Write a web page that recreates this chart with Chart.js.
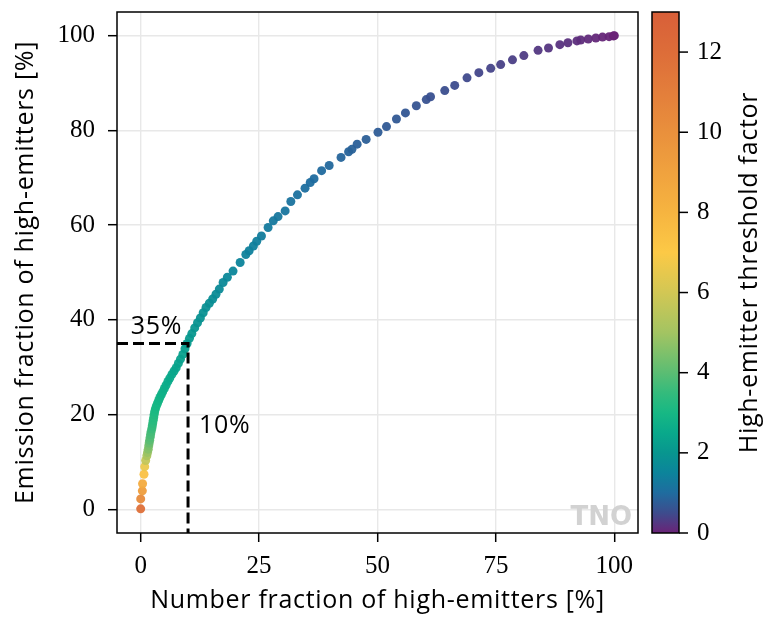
<!DOCTYPE html>
<html>
<head>
<meta charset="utf-8">
<script src="https://cdn.jsdelivr.net/npm/chart.js@4.4.1/dist/chart.umd.min.js"></script>
<style>
  html, body { margin: 0; padding: 0; background: #fff; }
</style>
</head>
<body>
<canvas id="chart" width="765" height="617"></canvas>
<script>
// number fraction [%], emission fraction [%] and threshold factor for each point
const numberFraction = [
  0.0, 0.0, 0.35, 0.4, 0.7, 0.85, 1.05,
  1.3, 1.45, 1.6, 1.7, 1.8, 1.9, 2.0, 2.1, 2.2, 2.35, 2.45, 2.55, 2.65, 2.75, 2.85, 2.95,
  3.1, 3.3, 3.55, 3.8, 4.05, 4.35, 4.65, 5.0, 5.35, 5.75, 6.15, 6.6, 7.05, 7.5, 7.95, 8.4,
  8.9, 9.35, 9.8, 10.3, 10.8, 11.4, 12.0, 12.6, 13.2, 13.8, 14.5, 15.2, 15.9, 16.6,
  17.4, 18.3, 19.5, 21.0, 22.2, 22.9, 23.8, 24.5, 25.5, 26.9, 28.0, 29.0, 30.5, 31.7,
  33.1, 34.7, 35.8, 36.6, 38.2, 39.8, 42.3, 43.9, 44.6, 45.7, 47.6, 50.1, 51.9, 54.0,
  55.9, 58.2, 60.3, 61.2, 64.2, 66.3, 68.9, 71.4, 73.9, 76.0, 78.5, 80.9, 83.9, 86.1,
  88.5, 90.2, 92.1, 92.9, 94.5, 96.1, 97.5, 98.9, 99.8, 100.0
];
const emissionFraction = [
  0.1, 2.2, 3.9, 5.4, 7.4, 9.0, 10.3,
  11.3, 12.0, 12.7, 13.4, 14.0, 14.6, 15.2, 15.8, 16.4, 17.0, 17.6, 18.2, 18.8, 19.4, 20.0, 20.6,
  21.2, 21.8, 22.4, 23.0, 23.6, 24.2, 24.8, 25.5, 26.2, 27.0, 27.7, 28.5, 29.2, 29.9, 30.8, 31.7,
  32.7, 33.9, 35.0, 36.1, 37.1, 38.3, 39.4, 40.4, 41.5, 42.6, 43.5, 44.4, 45.4, 46.5,
  47.9, 49.0, 50.3, 52.1, 53.8, 54.6, 55.6, 56.6, 57.7, 59.5, 60.9, 61.8, 63.0, 65.0,
  66.4, 67.8, 69.0, 69.8, 71.5, 72.6, 74.3, 75.5, 76.0, 77.1, 78.1, 79.6, 80.8, 82.4,
  83.7, 85.2, 86.5, 87.1, 88.4, 89.5, 91.1, 92.2, 93.1, 93.9, 94.9, 95.8, 96.9, 97.4,
  98.1, 98.5, 98.9, 99.1, 99.3, 99.5, 99.7, 99.8, 99.95, 100.0
];
const thresholdFactor = [
  11.8, 10.3, 9.3, 8.5, 7.4, 6.6, 5.7,
  5.2, 4.9, 4.6, 4.4, 4.2, 4.0, 3.9, 3.8, 3.7, 3.6, 3.5, 3.4, 3.3, 3.25, 3.2, 3.1,
  3.05, 3.0, 2.95, 2.9, 2.85, 2.8, 2.75, 2.7, 2.65, 2.6, 2.55, 2.5, 2.45, 2.4, 2.35, 2.3,
  2.25, 2.2, 2.15, 2.1, 2.05, 2.0, 1.95, 1.9, 1.87, 1.84, 1.8, 1.76, 1.72, 1.68,
  1.64, 1.6, 1.56, 1.5, 1.46, 1.43, 1.4, 1.37, 1.33, 1.29, 1.25, 1.22, 1.18, 1.14,
  1.1, 1.06, 1.03, 1.0, 0.97, 0.93, 0.89, 0.86, 0.84, 0.82, 0.79, 0.75, 0.72, 0.69,
  0.66, 0.62, 0.59, 0.57, 0.53, 0.5, 0.47, 0.43, 0.4, 0.37, 0.34, 0.3, 0.26, 0.23,
  0.2, 0.17, 0.14, 0.12, 0.1, 0.07, 0.05, 0.03, 0.01, 0.0
];

const xTicks = [0, 25, 50, 75, 100];
const yTicks = [0, 20, 40, 60, 80, 100];
const cbTicks = [0, 2, 4, 6, 8, 10, 12];
const cbMax = 13;

const xTitle = 'Number fraction of high-emitters [%]';
const yTitle = 'Emission fraction of high-emitters [%]';
const cbTitle = 'High-emitter threshold factor';

// the 10% / 35% marker and where its labels sit
const markNumber = 10;
const markEmission = 35;
const markLabelEmission = { x: -2.1, y: 37.0 };
const markLabelNumber = { x: 12.3, y: 16.1 };

// colormap used for the threshold factor
const cmapStops = [
  [0, '#6a2377'], [0.5, '#3d4c8d'], [1.0, '#1f6c9f'], [1.5, '#0c849b'],
  [2.0, '#08968f'], [2.5, '#09a98b'], [3.0, '#17b884'], [3.5, '#34bb7c'],
  [4.0, '#5bbd73'], [5.0, '#a3c462'], [6.0, '#d2c754'], [7.0, '#fcc946'],
  [8.0, '#f6b440'], [9.0, '#f0a23e'], [10.0, '#e9903c'], [11.0, '#e37e3b'],
  [12.0, '#dd6d39'], [13.0, '#d85f39']
];

function hexToRgb(h) {
  const n = parseInt(h.slice(1), 16);
  return [(n >> 16) & 255, (n >> 8) & 255, n & 255];
}

function cmap(v) {
  if (v <= cmapStops[0][0]) return cmapStops[0][1];
  for (let i = 1; i < cmapStops.length; i++) {
    const [v1, c1] = cmapStops[i];
    if (v <= v1) {
      const [v0, c0] = cmapStops[i - 1];
      const f = (v - v0) / (v1 - v0);
      const a = hexToRgb(c0), b = hexToRgb(c1);
      const m = a.map((c, k) => Math.round(c + (b[k] - c) * f));
      return `rgba(${m[0]},${m[1]},${m[2]},0.95)`;
    }
  }
  return cmapStops[cmapStops.length - 1][1];
}

const serif = '"Liberation Serif", "DejaVu Serif", serif';
const sans = '"Open Sans", "DejaVu Sans", sans-serif';

const points = numberFraction.map((x, i) => ({ x, y: emissionFraction[i] }));
const pointColors = thresholdFactor.map(cmap);

const xMin = -5, xMax = 105, yMin = -5, yMax = 105;

function drawText(ctx, text, x, y, rot, align) {
  ctx.save();
  ctx.translate(x, y);
  ctx.rotate(rot);
  ctx.font = '25px ' + sans;
  ctx.letterSpacing = '0.7px';
  ctx.fillStyle = '#000';
  ctx.textAlign = align;
  ctx.textBaseline = 'alphabetic';
  ctx.fillText(text, 0, 0);
  ctx.restore();
}

const decor = {
  id: 'decor',
  beforeDatasetsDraw(chart) {
    const { ctx, chartArea: a } = chart;
    ctx.save();
    ctx.font = 'bold 26px "DejaVu Sans"';
    ctx.fillStyle = '#d2d2d2';
    ctx.textAlign = 'right';
    ctx.textBaseline = 'alphabetic';
    ctx.fillText('TNO', a.right - 6, a.bottom - 8);
    ctx.restore();
  },
  afterDraw(chart) {
    const { ctx, chartArea: a, scales } = chart;
    const sx = scales.x, sy = scales.y, cb = scales.cb;
    const midX = (a.left + a.right) / 2, midY = (a.top + a.bottom) / 2;

    drawText(ctx, markEmission + '%', sx.getPixelForValue(markLabelEmission.x),
             sy.getPixelForValue(markLabelEmission.y), 0, 'left');
    drawText(ctx, markNumber + '%', sx.getPixelForValue(markLabelNumber.x),
             sy.getPixelForValue(markLabelNumber.y), 0, 'left');
    drawText(ctx, xTitle, midX, 608, 0, 'center');
    drawText(ctx, yTitle, 33, midY, -Math.PI / 2, 'center');
    drawText(ctx, cbTitle, 757, midY, -Math.PI / 2, 'center');

    ctx.save();
    ctx.strokeStyle = '#000';
    ctx.lineWidth = 1.5;
    ctx.strokeRect(a.left, a.top, a.right - a.left, a.bottom - a.top);

    // colorbar
    const cx0 = a.right + 14, cx1 = a.right + 41;
    const top = cb.getPixelForValue(cbMax), bot = cb.getPixelForValue(0);
    const g = ctx.createLinearGradient(0, bot, 0, top);
    cmapStops.forEach(([v, c]) => g.addColorStop(v / cbMax, c));
    ctx.fillStyle = g;
    ctx.fillRect(cx0, top, cx1 - cx0, bot - top);
    ctx.strokeRect(cx0, top, cx1 - cx0, bot - top);
    cbTicks.forEach(v => {
      const py = cb.getPixelForValue(v);
      ctx.beginPath();
      ctx.moveTo(cx1, py);
      ctx.lineTo(cx1 + 9, py);
      ctx.stroke();
    });
    ctx.restore();
  }
};

const noPad = s => { s.paddingTop = 0; s.paddingBottom = 0; s.paddingLeft = 0; s.paddingRight = 0; };

new Chart(document.getElementById('chart'), {
  type: 'scatter',
  data: {
    datasets: [
      {
        data: [
          { x: xMin, y: markEmission },
          { x: markNumber, y: markEmission },
          { x: markNumber, y: yMin }
        ],
        showLine: true,
        borderColor: '#000',
        borderWidth: 3,
        borderDash: [11, 5],
        pointRadius: 0,
        order: 0
      },
      {
        data: points,
        backgroundColor: pointColors,
        borderWidth: 0,
        pointRadius: 4.5,
        order: 1
      }
    ]
  },
  options: {
    responsive: false,
    animation: false,
    layout: { padding: { top: 12, left: 0, right: 0, bottom: 0 } },
    plugins: { legend: { display: false }, tooltip: { enabled: false } },
    scales: {
      x: {
        min: xMin, max: xMax,
        afterBuildTicks: s => { s.ticks = xTicks.map(v => ({ value: v })); },
        afterFit: s => { s.height = 84; noPad(s); },
        border: { display: false },
        grid: { color: '#e8e8e8', lineWidth: 1.4, tickColor: '#000', tickLength: 9, tickWidth: 1.5 },
        ticks: { color: '#000', font: { family: serif, size: 25 }, padding: 9, maxRotation: 0 }
      },
      y: {
        min: yMin, max: yMax,
        afterBuildTicks: s => { s.ticks = yTicks.map(v => ({ value: v })); },
        afterFit: s => { s.width = 117; noPad(s); },
        border: { display: false },
        grid: { color: '#e8e8e8', lineWidth: 1.4, tickColor: '#000', tickLength: 9, tickWidth: 1.5 },
        ticks: { color: '#000', font: { family: serif, size: 25 }, padding: 13 }
      },
      cb: {
        type: 'linear',
        position: 'right',
        min: 0, max: cbMax,
        afterBuildTicks: s => { s.ticks = cbTicks.map(v => ({ value: v })); },
        afterFit: s => { s.width = 127; noPad(s); },
        border: { display: false },
        grid: { display: false, drawTicks: true, tickLength: 50 },
        ticks: { color: '#000', font: { family: serif, size: 25 }, padding: 9 }
      }
    }
  },
  plugins: [decor]
});
</script>
</body>
</html>
